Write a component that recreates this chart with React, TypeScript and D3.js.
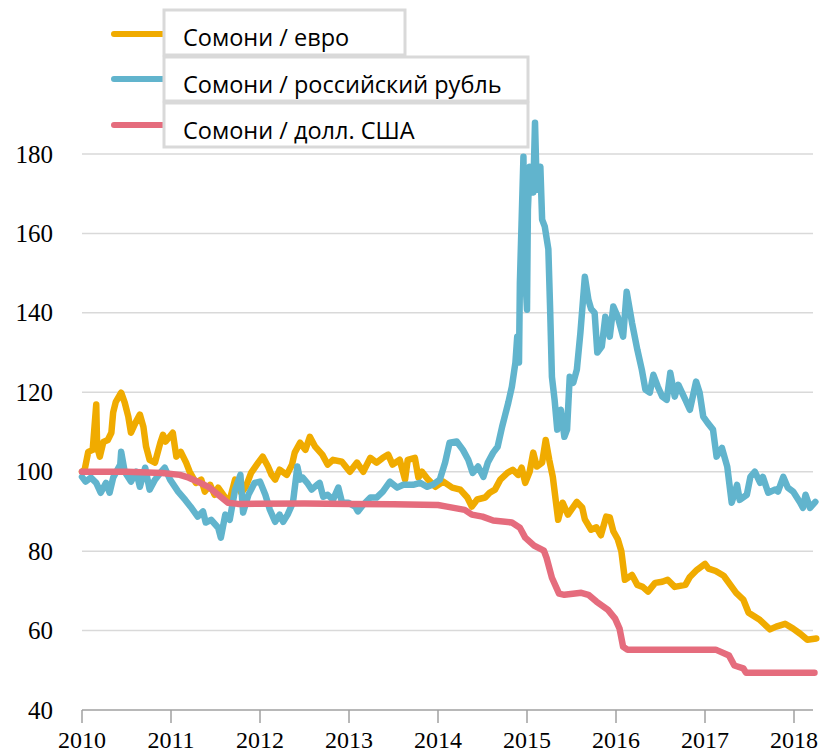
import React from 'react';
import * as d3 from 'd3';

// индекс, 2010 = 100; [год, значение]
const euro: [number, number][] = [
  [2010.0, 100], [2010.03, 100.5], [2010.07, 105], [2010.12, 105.5], [2010.16, 116.9], [2010.17, 106.3],
  [2010.2, 103.8], [2010.24, 107.5], [2010.29, 108], [2010.33, 109.8], [2010.35, 114.9], [2010.38, 117.6],
  [2010.44, 119.9], [2010.48, 117.4], [2010.52, 113.9], [2010.55, 109.8], [2010.6, 112.3], [2010.65, 114.4],
  [2010.69, 111.3], [2010.72, 106.3], [2010.76, 103], [2010.82, 102.3], [2010.88, 107.3], [2010.91, 109.3],
  [2010.94, 107.6], [2011.02, 109.8], [2011.06, 103.8], [2011.11, 105], [2011.17, 102.3], [2011.21, 100],
  [2011.28, 97.2], [2011.34, 98], [2011.38, 95], [2011.44, 96.7], [2011.49, 94.2], [2011.53, 96],
  [2011.61, 93.5], [2011.66, 92.9], [2011.72, 98], [2011.79, 94.7], [2011.84, 96.2], [2011.9, 99.7],
  [2011.98, 102.3], [2012.03, 103.8], [2012.09, 101.3], [2012.13, 99.2], [2012.17, 98], [2012.22, 100.5],
  [2012.3, 99.2], [2012.36, 101.8], [2012.39, 104.8], [2012.45, 107.3], [2012.51, 105.5], [2012.56, 108.8],
  [2012.62, 106.3], [2012.7, 104.3], [2012.76, 101.8], [2012.82, 103], [2012.92, 102.5], [2013.01, 100],
  [2013.09, 102.3], [2013.16, 100], [2013.24, 103.5], [2013.31, 102.3], [2013.38, 103.5], [2013.44, 104.3],
  [2013.49, 101.8], [2013.57, 103], [2013.63, 98], [2013.66, 103], [2013.74, 103.5], [2013.78, 98.5],
  [2013.82, 100], [2013.89, 98], [2013.97, 96.2], [2014.06, 97.5], [2014.16, 96], [2014.25, 95.5],
  [2014.33, 93.5], [2014.38, 91.2], [2014.44, 93], [2014.53, 93.5], [2014.58, 94.7], [2014.64, 95.5],
  [2014.7, 98], [2014.78, 99.7], [2014.84, 100.5], [2014.9, 99.2], [2014.94, 101], [2014.98, 97.2],
  [2015.03, 100], [2015.07, 104.8], [2015.11, 101.3], [2015.17, 102.3], [2015.21, 108], [2015.25, 103],
  [2015.29, 98.7], [2015.35, 87.9], [2015.4, 92.2], [2015.46, 89.2], [2015.56, 92.4], [2015.62, 91],
  [2015.65, 88], [2015.72, 85.4], [2015.78, 86], [2015.83, 84], [2015.89, 88.7], [2015.93, 88.5],
  [2015.97, 85], [2016.02, 83], [2016.06, 80], [2016.1, 72.8], [2016.18, 74], [2016.24, 71.5],
  [2016.3, 71], [2016.36, 69.8], [2016.44, 72], [2016.52, 72.3], [2016.58, 72.8], [2016.66, 71],
  [2016.78, 71.5], [2016.83, 73.5], [2016.91, 75.3], [2017.0, 76.8], [2017.04, 75.6], [2017.12, 75],
  [2017.21, 73.8], [2017.35, 69.5], [2017.43, 67.8], [2017.49, 64.5], [2017.61, 62.8], [2017.73, 60.3],
  [2017.8, 61], [2017.9, 61.7], [2017.99, 60.5], [2018.07, 59.2], [2018.15, 57.7], [2018.25, 58],
];

const rub: [number, number][] = [
  [2010.0, 98.7], [2010.04, 97.5], [2010.1, 98.5], [2010.16, 97.2], [2010.21, 94.7], [2010.27, 97.2],
  [2010.31, 94.7], [2010.35, 98.5], [2010.43, 101.8], [2010.44, 105], [2010.48, 100], [2010.55, 97.5],
  [2010.61, 100], [2010.65, 96.2], [2010.71, 101], [2010.76, 95.5], [2010.82, 98], [2010.89, 100],
  [2010.93, 101], [2010.99, 98], [2011.08, 95], [2011.16, 92.9], [2011.22, 91.2], [2011.3, 88.7],
  [2011.36, 90], [2011.39, 87.2], [2011.45, 87.9], [2011.53, 85.9], [2011.56, 83.4], [2011.61, 89.2],
  [2011.66, 87.9], [2011.72, 95.5], [2011.78, 99.2], [2011.81, 89.7], [2011.87, 94.2], [2011.94, 97.2],
  [2012.0, 97.5], [2012.06, 94.2], [2012.11, 90.5], [2012.17, 87.4], [2012.22, 89.2], [2012.26, 87.4],
  [2012.31, 89.2], [2012.37, 92.2], [2012.42, 101.3], [2012.45, 98], [2012.48, 98.5], [2012.53, 97.2],
  [2012.58, 95.5], [2012.64, 96.7], [2012.67, 97.2], [2012.71, 93.7], [2012.76, 94.2], [2012.82, 92.9],
  [2012.88, 96], [2012.92, 92.4], [2012.99, 92.2], [2013.07, 91.2], [2013.1, 90], [2013.16, 91.7],
  [2013.24, 93.5], [2013.31, 93.5], [2013.38, 95], [2013.46, 97.5], [2013.54, 96], [2013.61, 96.7],
  [2013.72, 96.7], [2013.8, 97.2], [2013.88, 96.2], [2013.94, 96.7], [2014.02, 98], [2014.08, 102.3],
  [2014.13, 107.3], [2014.21, 107.6], [2014.28, 105.5], [2014.34, 103], [2014.39, 99.7], [2014.45, 101.3],
  [2014.51, 98.7], [2014.56, 102.3], [2014.62, 104.8], [2014.67, 106.3], [2014.72, 111.3], [2014.75, 113.9],
  [2014.79, 117.4], [2014.83, 121.4], [2014.87, 127.5], [2014.89, 134], [2014.91, 127.5], [2014.92, 147.6],
  [2014.96, 179.3], [2014.97, 153.4], [2015.0, 140.8], [2015.01, 166], [2015.03, 176.8], [2015.07, 170.3],
  [2015.09, 187.9], [2015.11, 171], [2015.15, 176.8], [2015.17, 163.5], [2015.2, 161.7], [2015.24, 156],
  [2015.26, 140.8], [2015.28, 123.9], [2015.31, 118.1], [2015.34, 110.6], [2015.38, 115.6], [2015.42, 108.8],
  [2015.45, 110.6], [2015.48, 123.9], [2015.52, 122.4], [2015.56, 125.7], [2015.6, 135], [2015.65, 149.1],
  [2015.69, 143.3], [2015.72, 141], [2015.76, 140], [2015.79, 130], [2015.84, 131.5], [2015.88, 139],
  [2015.93, 134], [2015.97, 141.6], [2016.02, 139], [2016.08, 134], [2016.12, 145.3], [2016.18, 137.5],
  [2016.24, 130.7], [2016.29, 125.7], [2016.33, 120.7], [2016.38, 119.9], [2016.42, 124.4], [2016.47, 121.4],
  [2016.52, 118.9], [2016.57, 118.1], [2016.61, 124.9], [2016.66, 118.9], [2016.7, 121.9], [2016.78, 118.1],
  [2016.83, 115.6], [2016.9, 122.7], [2016.94, 119.9], [2016.98, 113.9], [2017.03, 112.3], [2017.09, 110.6],
  [2017.13, 103.8], [2017.19, 106], [2017.25, 101.3], [2017.3, 92.2], [2017.36, 96.7], [2017.39, 92.9],
  [2017.47, 94.2], [2017.51, 98.7], [2017.56, 100], [2017.62, 97.2], [2017.65, 98.7], [2017.71, 94.7],
  [2017.79, 95.5], [2017.82, 95], [2017.88, 98.7], [2017.93, 96], [2017.99, 95], [2018.07, 92.2],
  [2018.1, 90.9], [2018.13, 94.2], [2018.18, 90.9], [2018.24, 92.4],
];

const usd: [number, number][] = [
  [2010.0, 100], [2010.5, 100], [2010.9, 99.7], [2011.1, 99.2], [2011.2, 98.5], [2011.3, 97.5],
  [2011.42, 96.2], [2011.53, 94.2], [2011.64, 92.2], [2011.75, 91.9], [2012.5, 92], [2013.0, 91.9],
  [2013.5, 91.8], [2014.0, 91.6], [2014.1, 91.2], [2014.3, 90.4], [2014.38, 89.2], [2014.5, 88.7],
  [2014.62, 87.7], [2014.83, 87.2], [2014.92, 85.9], [2014.98, 83.4], [2015.08, 81.4], [2015.19, 80.1],
  [2015.22, 78.3], [2015.28, 73.3], [2015.36, 69.3], [2015.42, 69.0], [2015.61, 69.5], [2015.69, 69.0],
  [2015.78, 67.3], [2015.91, 65.2], [2015.99, 63.0], [2016.04, 60.5], [2016.08, 55.9], [2016.13, 55.2],
  [2017.12, 55.2], [2017.27, 53.7], [2017.33, 51.2], [2017.43, 50.5], [2017.46, 49.4], [2018.23, 49.4],
];

const seriesNames = ['Сомони / евро', 'Сомони / российский рубль', 'Сомони / долл. США'];
const colors = ['#f0ab00', '#61b4cd', '#e56c7d'];
const yearTicks = [2010, 2011, 2012, 2013, 2014, 2015, 2016, 2017, 2018];
const valueTicks = [40, 60, 80, 100, 120, 140, 160, 180];

const W = 823;
const H = 752;
const serif = "'Liberation Serif', 'Times New Roman', 'DejaVu Serif', serif";

export default function App() {
  const x = d3.scaleLinear().domain([2010, 2018]).range([82, 794]);
  const y = d3.scaleLinear().domain([40, 180]).range([710, 154]);
  const line = d3.line<[number, number]>()
    .x((d) => x(d[0]))
    .y((d) => y(d[1]));

  const data = [euro, rub, usd];
  const gridRight = 813;

  const legendBoxes = [
    { x: 164, y: 10, w: 241, h: 45, ly: 34 },
    { x: 164, y: 57, w: 364, h: 44, ly: 79 },
    { x: 164, y: 103, w: 364, h: 44, ly: 125 },
  ];

  return (
    <svg width={W} height={H} style={{ position: 'absolute', left: 0, top: 0, background: '#fff' }}>
      {/* сетка */}
      {valueTicks.slice(1).map((v) => (
        <line key={v} x1={82} x2={gridRight} y1={y(v)} y2={y(v)} stroke="#d9d9d9" strokeWidth={1.5} />
      ))}
      {valueTicks.map((v) => (
        <text key={v} x={53} y={y(v)} dy="0.34em" textAnchor="end"
          style={{ fontFamily: serif }} fontSize={25} fill="#000">{v}</text>
      ))}
      {/* ось X */}
      <line x1={82} x2={gridRight} y1={y(40)} y2={y(40)} stroke="#a0a0a0" strokeWidth={1.5} />
      {yearTicks.map((t) => (
        <g key={t}>
          <line x1={x(t)} x2={x(t)} y1={y(40)} y2={y(40) + 13} stroke="#a0a0a0" strokeWidth={1.5} />
          <text x={x(t)} y={748} textAnchor="middle"
            style={{ fontFamily: serif }} fontSize={24} fill="#000">{t}</text>
        </g>
      ))}
      {/* линии */}
      {data.map((s, i) => (
        <path key={i} d={line(s) || ''} fill="none" stroke={colors[i]} strokeWidth={6.5}
          strokeLinejoin="round" strokeLinecap="round" />
      ))}
      {/* легенда */}
      {legendBoxes.map((b, i) => (
        <g key={i}>
          <line x1={114} x2={164} y1={b.ly} y2={b.ly} stroke={colors[i]} strokeWidth={6} strokeLinecap="round" />
          <rect x={b.x} y={b.y} width={b.w} height={b.h} fill="#fff" stroke="#d9d9d9" strokeWidth={3} />
          <text x={183} y={b.y + 36} style={{ fontFamily: "'Open Sans', sans-serif" }} fontSize={23.5} fill="#000">
            {seriesNames[i]}
          </text>
        </g>
      ))}
    </svg>
  );
}
